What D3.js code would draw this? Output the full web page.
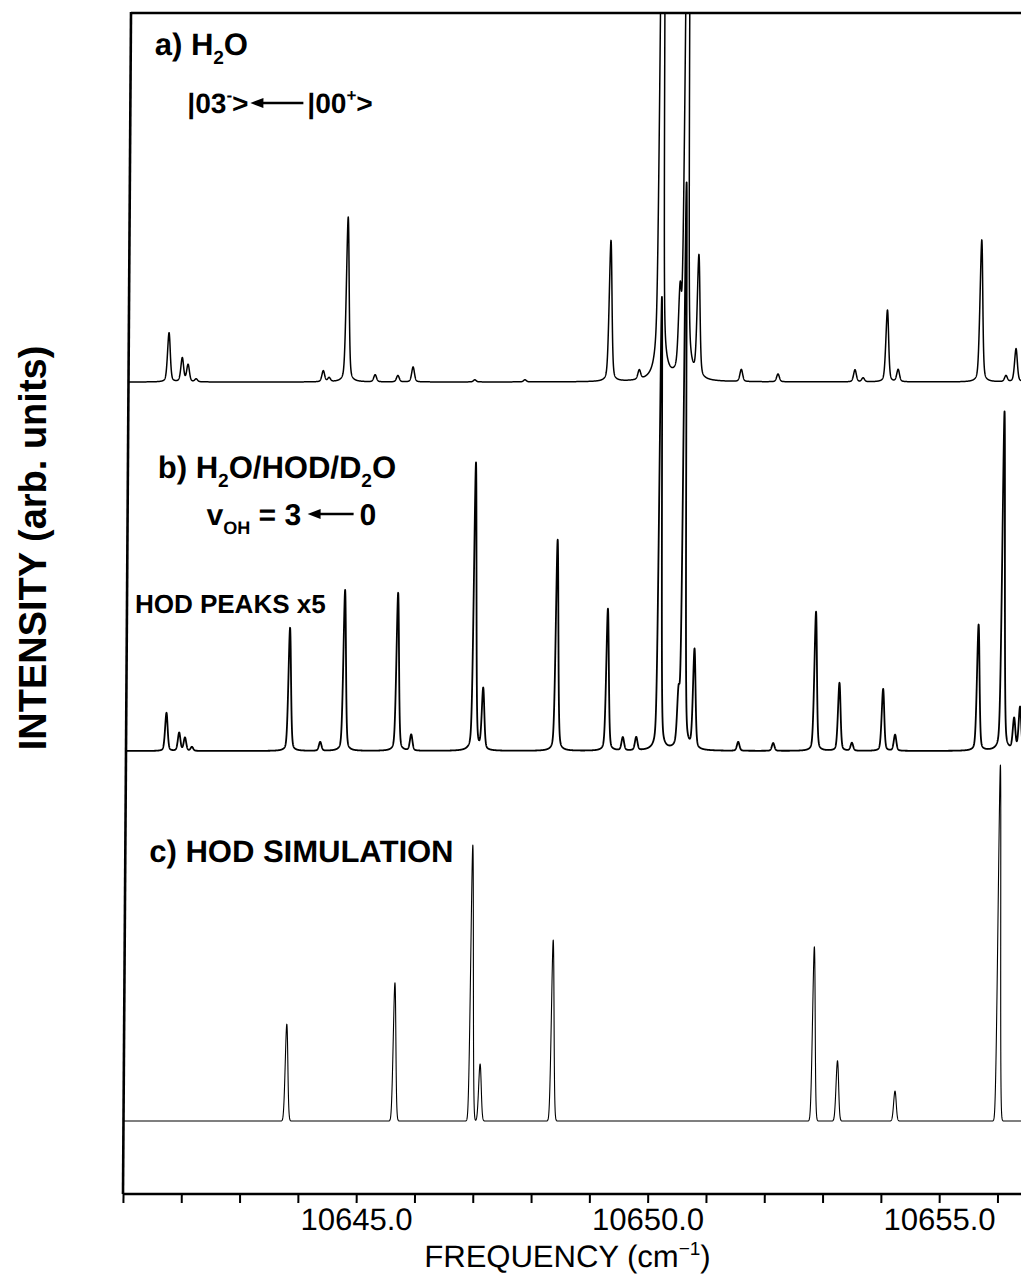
<!DOCTYPE html>
<html>
<head>
<meta charset="utf-8">
<script src="https://cdn.jsdelivr.net/npm/d3@7"></script>
<style>
  html, body { margin: 0; padding: 0; background: #fff; }
  svg { display: block; }
  text { font-family: "Liberation Sans", Arial, Helvetica, sans-serif; fill: #000; }
</style>
</head>
<body>
<svg id="chart" width="1021" height="1285"></svg>
<script>
// ---- Frequency axis (cm^-1) ----
const freqDomain = [10641, 10657];
const minorTicks = d3.range(10641, 10657);
const majorTicks = [10645, 10650, 10655];

// ---- a) H2O spectrum: line positions (cm^-1) and intensities (arb. units) ----
const peaksA_freq = [10641.69, 10641.92, 10642.02, 10642.16, 10644.34, 10644.44, 10644.75, 10645.23,
                     10645.62, 10645.88, 10646.94, 10647.80, 10649.26, 10649.76, 10650.12, 10650.45,
                     10650.55, 10650.77, 10651.51, 10652.14, 10653.46, 10653.60, 10654.01, 10654.20,
                     10655.62, 10656.05, 10656.22, 10656.45];
const peaksA_int  = [13.8, 6.7, 4.8, 0.8, 3.1, 1.1, 46.3, 2.0,
                     1.8, 4.2, 0.6, 0.6, 39.6, 2.6, 337, 20,
                     281, 34.0, 3.4, 2.2, 3.4, 1.1, 20.2, 3.4,
                     39.9, 1.7, 9.3, 7.0];

// ---- b) H2O/HOD/D2O spectrum (HOD peaks x5) ----
const peaksB_freq = [10641.69, 10641.91, 10642.01, 10642.13, 10643.80, 10644.33, 10644.74, 10645.65,
                     10645.89, 10646.97, 10647.12, 10648.38, 10649.25, 10649.52, 10649.75, 10650.14,
                     10650.47, 10650.55, 10650.74, 10651.50, 10652.10, 10652.82, 10653.23, 10653.45,
                     10653.98, 10654.19, 10655.61, 10656.03, 10656.23, 10656.33];
const peaksB_int  = [10.7, 5.1, 3.7, 1.1, 34.6, 2.5, 45.2, 44.4,
                     4.5, 80.9, 17.1, 59.3, 39.9, 3.7, 3.7, 127.3,
                     13.5, 159, 27.8, 2.5, 2.2, 39.1, 19.1, 2.2,
                     17.4, 4.5, 35.4, 95.3, 8.7, 12.1];

// ---- c) HOD simulation ----
const peaksC_freq = [10643.79, 10645.64, 10646.96, 10647.11, 10648.35, 10652.83, 10653.24, 10654.23, 10656.00];
const peaksC_int  = [27.2, 38.8, 77.5, 16.0, 50.8, 48.9, 16.9, 8.4, 100];

// ---- layout ----
const svg = d3.select("#chart");
const left = 123, axisY = 1194, topY = 13, pxPerWave = 58.3;
const x = d3.scaleLinear().domain(freqDomain)
  .range([left, left + (freqDomain[1] - freqDomain[0]) * pxPerWave]);

// each trace has its own baseline; all share the same intensity scale
const panelHeight = 356;
const yA = d3.scaleLinear().domain([0, 100]).range([382, 382 - panelHeight]);
const yB = d3.scaleLinear().domain([0, 100]).range([751, 751 - panelHeight]);
const yC = d3.scaleLinear().domain([0, 100]).range([1121, 1121 - panelHeight]);

// the printed figure is slightly sheared: the frame leans right towards the top
const shear = -Math.atan(8 / (axisY - topY)) * 180 / Math.PI;
const plot = svg.append("g")
  .attr("transform", `translate(0,${axisY}) skewX(${shear}) translate(0,${-axisY})`);

plot.append("clipPath").attr("id", "plotArea")
  .append("rect").attr("x", left).attr("y", topY)
  .attr("width", 1100).attr("height", axisY - topY);

// pseudo-Voigt line shape summed over the listed lines
const grid = d3.range(freqDomain[0], freqDomain[1] + 1e-9, 0.002);
function spectrum(freqs, ints, hwhm, eta) {
  return grid.map(f => {
    let s = 0;
    for (let i = 0; i < freqs.length; i++) {
      const u = (f - freqs[i]) / hwhm;
      const u2 = u * u;
      if (u2 > 4e4) continue;
      s += ints[i] * (eta / (1 + u2) + (1 - eta) * Math.exp(-Math.LN2 * u2));
    }
    return [f, s];
  });
}

const traces = [
  { data: spectrum(peaksA_freq, peaksA_int, 0.028, 0.35), y: yA, w: 1.5 },
  { data: spectrum(peaksB_freq, peaksB_int, 0.026, 0.3),  y: yB, w: 1.8 },
  { data: spectrum(peaksC_freq, peaksC_int, 0.026, 0.0),  y: yC, w: 1.1 }
];
const traceG = plot.append("g").attr("clip-path", "url(#plotArea)");
traces.forEach(t => {
  traceG.append("path")
    .datum(t.data)
    .attr("fill", "none")
    .attr("stroke", "#000")
    .attr("stroke-width", t.w)
    .attr("stroke-linejoin", "round")
    .attr("d", d3.line().x(d => x(d[0])).y(d => t.y(d[1])));
});

// frame: left edge and top edge
plot.append("line").attr("x1", left).attr("x2", left).attr("y1", topY - 1).attr("y2", axisY)
  .attr("stroke", "#000").attr("stroke-width", 2.6);
plot.append("line").attr("x1", left).attr("x2", 1100).attr("y1", topY).attr("y2", topY)
  .attr("stroke", "#000").attr("stroke-width", 2.4);

// frequency axis
const axis = d3.axisBottom(x)
  .tickValues(minorTicks)
  .tickSize(9)
  .tickSizeOuter(0)
  .tickPadding(5)
  .tickFormat(d => majorTicks.includes(d) ? d3.format(".1f")(d) : "");
const axG = plot.append("g").attr("transform", `translate(0,${axisY})`).call(axis);
axG.select(".domain").attr("stroke-width", 2.4).attr("d", `M${left},0H1100`);
axG.selectAll(".tick line").attr("stroke-width", 2);
axG.selectAll(".tick text")
  .style("font-family", '"Liberation Sans", Arial, sans-serif')
  .style("font-size", "31px").attr("fill", "#000");

// x-axis title
const xt = plot.append("text").attr("x", 568).attr("y", 1267)
  .attr("text-anchor", "middle").style("font-size", "31px");
xt.append("tspan").text("FREQUENCY (cm");
xt.append("tspan").attr("dy", -12).style("font-size", "19px").text("\u22121");
xt.append("tspan").attr("dy", 12).text(")");

// panel annotations
function label(xp, yp, size, parts) {
  const t = plot.append("text").attr("x", xp).attr("y", yp)
    .style("font-size", size + "px").style("font-weight", "bold");
  let shift = 0;
  parts.forEach(p => {
    const ts = t.append("tspan").text(p.t);
    const want = p.sub ? 9 : p.sup ? -12 : 0;
    if (want !== shift) { ts.attr("dy", want - shift); shift = want; }
    if (p.sub || p.sup) ts.style("font-size", Math.round(size * 0.6) + "px");
  });
  return t;
}
function arrow(x1, x2, yp) {
  plot.append("line").attr("x1", x1 + 8).attr("x2", x2).attr("y1", yp).attr("y2", yp)
    .attr("stroke", "#000").attr("stroke-width", 2.6);
  plot.append("path")
    .attr("d", `M${x1},${yp}L${x1 + 13},${yp - 5}L${x1 + 13},${yp + 5}Z`).attr("fill", "#000");
}

label(147, 55, 31, [{ t: "a) H" }, { t: "2", sub: true }, { t: "O" }]);
label(180, 113, 28, [{ t: "|03" }, { t: "-", sup: true }, { t: ">" }]);
arrow(243, 296, 103);
label(300, 113, 28, [{ t: "|00" }, { t: "+", sup: true }, { t: ">" }]);

label(153, 478, 31, [{ t: "b) H" }, { t: "2", sub: true }, { t: "O/HOD/D" }, { t: "2", sub: true }, { t: "O" }]);
label(202, 525, 30, [{ t: "v" }, { t: "OH", sub: true }, { t: " = 3" }]);
arrow(303, 349, 514);
label(355, 525, 30, [{ t: "0" }]);
label(131, 613, 26, [{ t: "HOD PEAKS x5" }]);

label(147, 862, 31, [{ t: "c) HOD SIMULATION" }]);

// intensity axis title
svg.append("text")
  .attr("transform", "translate(46,548) rotate(-90)")
  .attr("text-anchor", "middle")
  .style("font-size", "38px").style("font-weight", "bold")
  .text("INTENSITY (arb. units)");
</script>
</body>
</html>
